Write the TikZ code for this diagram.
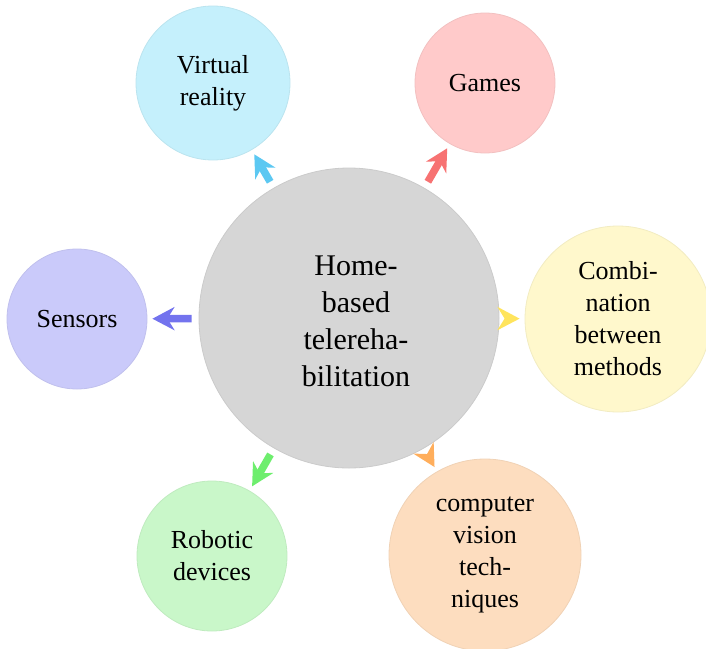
\documentclass[tikz,border=0pt]{standalone}
\usepackage{fontspec}
\setmainfont{Liberation Serif}
\usetikzlibrary{arrows.meta}
\definecolor{cFill}{HTML}{D6D6D6}
\definecolor{vrFill}{HTML}{C5F0FC}
\definecolor{vrArr}{HTML}{5CC8F2}
\definecolor{gaFill}{HTML}{FFCACA}
\definecolor{gaArr}{HTML}{F77272}
\definecolor{coFill}{HTML}{FFF8CC}
\definecolor{coArr}{HTML}{FFE45C}
\definecolor{cvFill}{HTML}{FDDDBF}
\definecolor{cvArr}{HTML}{FFAE5C}
\definecolor{roFill}{HTML}{C9F7C9}
\definecolor{roArr}{HTML}{6EEE6E}
\definecolor{seFill}{HTML}{CACAFA}
\definecolor{seArr}{HTML}{7373EE}
\begin{document}
\begin{tikzpicture}[x=1pt,y=-1pt,
  bubble/.style={circle,inner sep=0pt,align=center,font=\fontsize{26}{32}\selectfont,line width=0.8pt},
  hub/.style={circle,inner sep=0pt,fill=cFill,draw=cFill!95!black,line width=0.8pt,minimum size=300pt},
  hubtext/.style={align=center,font=\fontsize{30}{37}\selectfont,inner sep=0pt},
  link/.style={line width=7.5pt,-{Stealth[length=22pt,width=23pt,inset=7pt]},shorten <=7pt,shorten >=5pt}]
\useasboundingbox (0,0) rectangle (706,648);
\node[hub] (c) at (349,318) {};
\node[hubtext] (ct) at (356,321) {Home-\\based\\telereha-\\bilitation};
\node[bubble,minimum size=154pt,fill=vrFill,draw=vrFill!95!black] (vr) at (213,83) {Virtual\\reality};
\node[bubble,minimum size=140pt,fill=gaFill,draw=gaFill!95!black] (ga) at (485,83) {Games};
\node[bubble,minimum size=186pt,fill=coFill,draw=coFill!95!black] (co) at (618,319) {Combi-\\nation\\between\\methods};
\node[bubble,minimum size=192pt,fill=cvFill,draw=cvFill!95!black] (cv) at (485,555) {computer\\vision\\tech-\\niques};
\node[bubble,minimum size=150pt,fill=roFill,draw=roFill!95!black] (ro) at (212,556) {Robotic\\devices};
\node[bubble,minimum size=140pt,fill=seFill,draw=seFill!95!black] (se) at (77,319) {Sensors};
\draw[link,vrArr] (c) -- (vr);
\draw[link,gaArr] (c) -- (ga);
\draw[link,coArr] (c) -- (co);
\draw[link,cvArr] (c) -- (cv);
\draw[link,roArr] (c) -- (ro);
\draw[link,seArr] (c) -- (se);
\end{tikzpicture}
\end{document}
